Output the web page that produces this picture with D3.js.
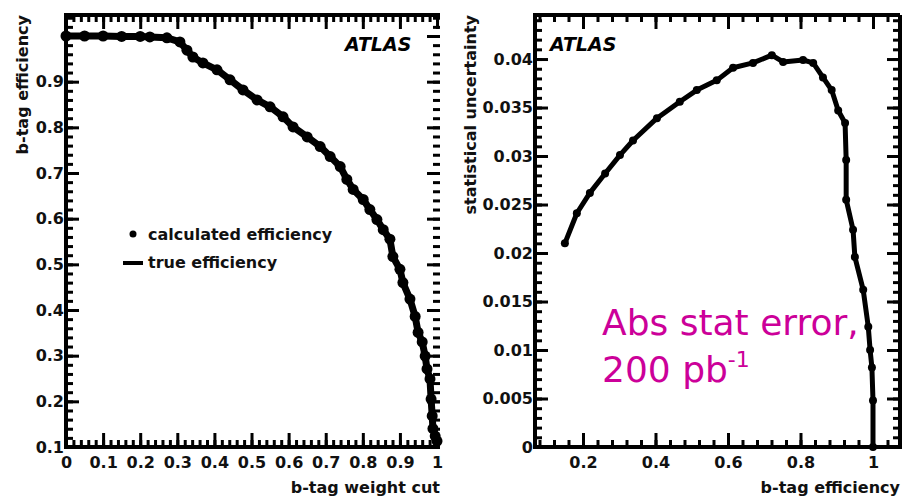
<script src="https://d3js.org/d3.v7.min.js"></script>
<style>
  body { margin: 0; background: #fff; }
  svg text { font-family: "DejaVu Sans", sans-serif; font-weight: bold; }
</style>
<svg width="903" height="503"></svg>
<script>
// left plot: b-tag efficiency vs weight cut
var weightCut = [0, 0.05, 0.10, 0.15, 0.20, 0.226, 0.272, 0.307, 0.326, 0.342, 0.369, 0.407, 0.442, 0.477, 0.515, 0.550, 0.585, 0.612, 0.650, 0.685, 0.712, 0.739, 0.757, 0.774, 0.801, 0.819, 0.838, 0.855, 0.873, 0.881, 0.900, 0.908, 0.927, 0.941, 0.949, 0.960, 0.968, 0.973, 0.981, 0.984, 0.987, 0.989, 0.995, 1.0];
var calcEff = [1.0, 1.0, 1.0, 0.999, 0.999, 0.998, 0.996, 0.987, 0.969, 0.954, 0.941, 0.926, 0.904, 0.882, 0.860, 0.845, 0.823, 0.801, 0.779, 0.758, 0.736, 0.714, 0.686, 0.664, 0.642, 0.620, 0.598, 0.576, 0.555, 0.517, 0.489, 0.460, 0.424, 0.386, 0.351, 0.330, 0.299, 0.271, 0.249, 0.205, 0.168, 0.140, 0.124, 0.113];

// right plot: statistical uncertainty vs b-tag efficiency
var btagEff = [0.150, 0.183, 0.219, 0.261, 0.302, 0.338, 0.404, 0.467, 0.514, 0.569, 0.614, 0.669, 0.721, 0.752, 0.807, 0.835, 0.862, 0.886, 0.904, 0.923, 0.926, 0.926, 0.945, 0.950, 0.973, 0.987, 0.992, 0.997, 1.0, 1.0];
var statErr = [0.0210, 0.0241, 0.0262, 0.0282, 0.0301, 0.0316, 0.0339, 0.0356, 0.0368, 0.0378, 0.0391, 0.0396, 0.0404, 0.0397, 0.0399, 0.0396, 0.0381, 0.0368, 0.0347, 0.0334, 0.0296, 0.0255, 0.0224, 0.0196, 0.0162, 0.0124, 0.0100, 0.0082, 0.0048, 0.0];

var leftXTicks = d3.range(0, 11).map(function(d) { return d / 10; });
var leftYTicks = d3.range(1, 11).map(function(d) { return d / 10; });
var rightXTicks = [0.2, 0.4, 0.6, 0.8, 1.0];
var rightYTicks = d3.range(0, 9).map(function(d) { return d * 5 / 1000; });

var svg = d3.select("svg");
var plotTop = 15, plotBottom = 447;

function fmt(d) { return d === 0 ? "0" : String(+d.toFixed(3)); }

function styleAxis(g) {
    g.select(".domain").remove();
    g.selectAll(".tick line").attr("stroke", "#000").attr("stroke-width", 3);
    g.selectAll(".tick text").attr("fill", "#111").style("font-size", "16px");
}

function panel(o) {
    var x = d3.scaleLinear().domain(o.xDomain).range([o.x0, o.x1]),
        y = d3.scaleLinear().domain(o.yDomain).range([plotBottom, plotTop]);
    var g = svg.append("g");

    // major + minor ticks on all four sides
    g.append("g").attr("transform", "translate(0," + plotBottom + ")")
        .call(d3.axisBottom(x).tickValues(o.xMinor).tickSizeInner(-7).tickSizeOuter(0).tickFormat(""))
        .call(styleAxis);
    g.append("g").attr("transform", "translate(0," + plotBottom + ")")
        .call(d3.axisBottom(x).tickValues(o.xTicks).tickSizeInner(-14).tickSizeOuter(0).tickPadding(10).tickFormat(o.xFmt))
        .call(styleAxis);
    g.append("g").attr("transform", "translate(0," + plotTop + ")")
        .call(d3.axisBottom(x).tickValues(o.xMinor).tickSizeInner(7).tickSizeOuter(0).tickFormat(""))
        .call(styleAxis);
    g.append("g").attr("transform", "translate(0," + plotTop + ")")
        .call(d3.axisBottom(x).tickValues(o.xTicks).tickSizeInner(14).tickSizeOuter(0).tickFormat(""))
        .call(styleAxis);
    g.append("g").attr("transform", "translate(" + o.x0 + ",0)")
        .call(d3.axisLeft(y).tickValues(o.yMinor).tickSizeInner(-7).tickSizeOuter(0).tickFormat(""))
        .call(styleAxis);
    g.append("g").attr("transform", "translate(" + o.x0 + ",0)")
        .call(d3.axisLeft(y).tickValues(o.yTicks).tickSizeInner(-13).tickSizeOuter(0).tickPadding(2).tickFormat(o.yFmt))
        .call(styleAxis);
    g.append("g").attr("transform", "translate(" + o.x1 + ",0)")
        .call(d3.axisRight(y).tickValues(o.yMinor).tickSizeInner(-7).tickSizeOuter(0).tickFormat(""))
        .call(styleAxis);
    g.append("g").attr("transform", "translate(" + o.x1 + ",0)")
        .call(d3.axisRight(y).tickValues(o.yTicks).tickSizeInner(-13).tickSizeOuter(0).tickFormat(""))
        .call(styleAxis);

    // frame
    var frame = "M" + o.x1 + "," + plotTop + "H" + o.x0 + "V" + plotBottom + "H" + o.x1;
    if (o.closeRight) frame += "V" + plotTop;
    g.append("path").attr("d", frame).attr("fill", "none").attr("stroke", "#000").attr("stroke-width", 4);

    // data
    var pts = o.xs.map(function(v, i) { return [v, o.ys[i]]; });
    g.append("path").datum(pts)
        .attr("fill", "none").attr("stroke", "#000").attr("stroke-width", o.lw)
        .attr("stroke-linejoin", "round")
        .attr("d", d3.line().x(function(d) { return x(d[0]); }).y(function(d) { return y(d[1]); }));
    g.selectAll(".pt").data(pts).enter().append("circle")
        .attr("cx", function(d) { return x(d[0]); })
        .attr("cy", function(d) { return y(d[1]); })
        .attr("r", o.r).attr("fill", "#000");

    // ATLAS label
    g.append("text").attr("x", o.atlasX).attr("y", 51)
        .style("font-size", "19px").style("font-style", "italic").text("ATLAS");

    // axis titles
    g.append("text").attr("x", o.x1).attr("y", 493).attr("text-anchor", "end")
        .style("font-size", "16px").attr("fill", "#111").text(o.xTitle);
    g.append("text").attr("transform", "translate(" + o.yTitleX + "," + plotTop + ") rotate(-90)")
        .attr("text-anchor", "end").style("font-size", "16px").attr("fill", "#111").text(o.yTitle);
    return {x: x, y: y, g: g};
}

var left = panel({
    x0: 66, x1: 440, xDomain: [0, 1.008], yDomain: [0.1, 1.046],
    xTicks: leftXTicks, xMinor: d3.range(0, 51).map(function(d) { return d / 50; }),
    yTicks: leftYTicks, yMinor: d3.range(5, 53).map(function(d) { return d / 50; }),
    xFmt: function(d) { return fmt(d); },
    yFmt: function(d) { return d >= 1 ? "" : fmt(d); },
    xs: weightCut, ys: calcEff, lw: 7, r: 5.5,
    atlasX: 345, xTitle: "b-tag weight cut", yTitle: "b-tag efficiency", yTitleX: 28,
    closeRight: false
});

var right = panel({
    x0: 535, x1: 900, xDomain: [0.0676, 1.0745], yDomain: [0, 0.04454],
    xTicks: rightXTicks, xMinor: d3.range(2, 27).map(function(d) { return d * 0.04; }),
    yTicks: rightYTicks, yMinor: d3.range(0, 45).map(function(d) { return d / 1000; }),
    xFmt: function(d) { return fmt(d); },
    yFmt: function(d) { return fmt(d); },
    xs: btagEff, ys: statErr, lw: 5, r: 4,
    atlasX: 550, xTitle: "b-tag efficiency", yTitle: "statistical uncertainty", yTitleX: 476,
    closeRight: true
});

// legend on left plot
var lg = left.g.append("g");
lg.append("circle").attr("cx", 133).attr("cy", 234).attr("r", 3.5).attr("fill", "#000");
lg.append("text").attr("x", 148).attr("y", 240).style("font-size", "16px").attr("fill", "#111").text("calculated efficiency");
lg.append("line").attr("x1", 123).attr("x2", 143).attr("y1", 263).attr("y2", 263)
    .attr("stroke", "#000").attr("stroke-width", 4);
lg.append("text").attr("x", 148).attr("y", 268).style("font-size", "16px").attr("fill", "#111").text("true efficiency");

// magenta annotation
var note = svg.append("g").attr("fill", "#CC0099")
    .style("font-family", "'Liberation Sans', Arial, sans-serif");
note.append("text").attr("x", 602).attr("y", 335)
    .style("font-size", "36px").style("font-weight", "normal").text("Abs stat error,");
var l2 = note.append("text").attr("x", 602).attr("y", 382)
    .style("font-size", "36px").style("font-weight", "normal");
l2.append("tspan").text("200 pb");
l2.append("tspan").attr("dy", -15).style("font-size", "22px").text("-1");
</script>
